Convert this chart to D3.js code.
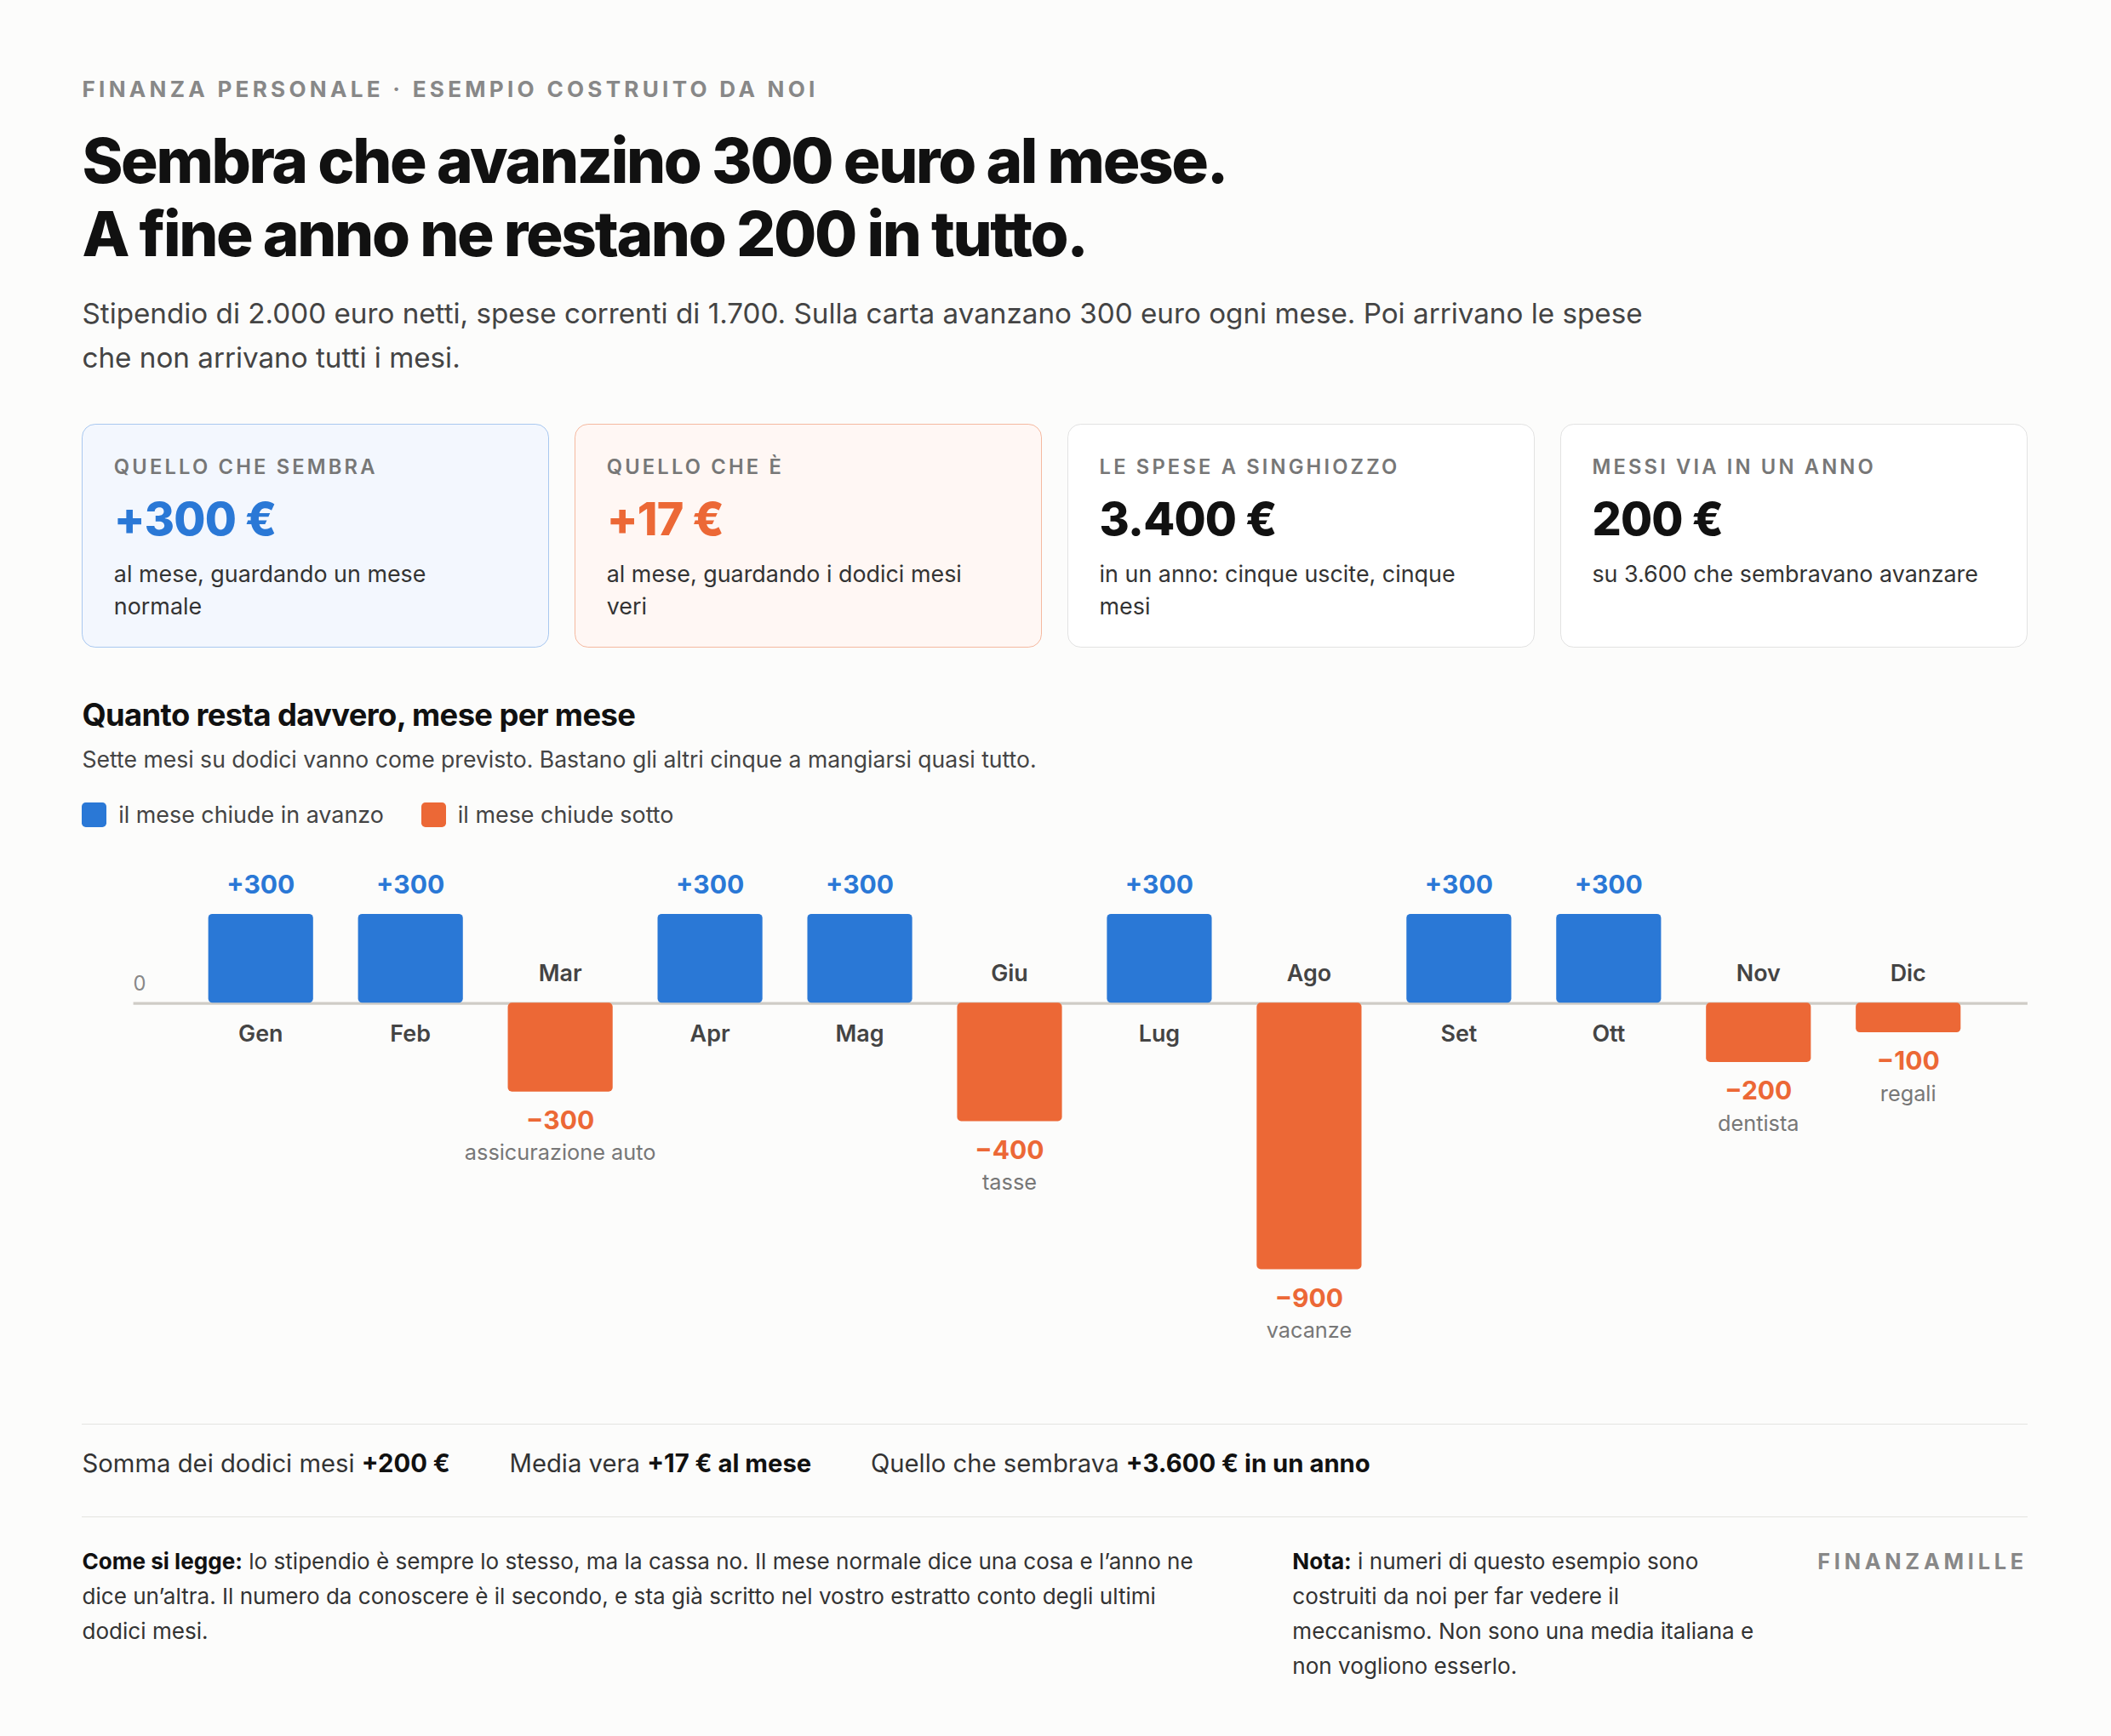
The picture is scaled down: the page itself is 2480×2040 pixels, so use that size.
<!DOCTYPE html>
<html lang="it">
<head>
<meta charset="utf-8">
<script src="https://cdn.jsdelivr.net/npm/d3@7"></script>
<style>
  html, body { margin: 0; background: #fcfcfb; }
  body { zoom: 1.5816; font-family: Inter, "Noto Sans", sans-serif; color: #111; width: 1568px; height: 1290px; overflow: hidden; }
  .page { position: relative; padding: 0 62px 0 61px; }
  .eyebrow { position: absolute; top: 56px; font-size: 16.5px; font-weight: 700; letter-spacing: 2.7px; color: #888; }
  h1 { position: absolute; top: 92px; margin: 0; font-size: 46px; line-height: 55px; letter-spacing: -1.5px; font-weight: 800; }
  .lead { position: absolute; top: 216px; width: 1200px; font-size: 21px; line-height: 33px; color: #444; margin: 0; }
  .cards { position: absolute; top: 315px; display: flex; gap: 19px; }
  .card { width: 347px; height: 166px; box-sizing: border-box; border: 1px solid #e2e2e2; border-radius: 10px; background: #fff; padding: 22px 40px 22px 23px; }
  .card.a { background: #f3f7fe; border-color: #a9c8f0; }
  .card.b { background: #fff7f4; border-color: #f5b9a0; }
  .card .lab { font-size: 15px; font-weight: 600; letter-spacing: 2px; color: #777; }
  .card .val { font-size: 34px; font-weight: 800; margin-top: 9px; letter-spacing: -0.5px; }
  .card .desc { font-size: 17px; line-height: 24px; color: #333; margin-top: 9px; }
  .sec { position: absolute; top: 517px; font-size: 23px; font-weight: 700; letter-spacing: -0.4px; }
  .secsub { position: absolute; top: 554px; font-size: 16.8px; color: #444; }
  .legend { position: absolute; top: 595px; font-size: 17px; color: #444; display: flex; gap: 28px; }
  .legend span i { display: inline-block; width: 18px; height: 18px; border-radius: 3px; vertical-align: -3px; margin-right: 9px; }
  svg { position: absolute; left: 0; top: 0; }
  .rule { position: absolute; left: 61px; width: 1445px; border-top: 1px solid #e4e4e0; }
  .totals { position: absolute; top: 1076px; font-size: 18.5px; color: #333; display: flex; gap: 44px; }
  .totals b { color: #111; }
  .note { position: absolute; top: 1147px; font-size: 16.5px; line-height: 26px; color: #333; }
  .note b { color: #111; }
  .brand { position: absolute; top: 1150px; right: 62px; font-size: 16px; font-weight: 700; letter-spacing: 3px; color: #888; }
</style>
</head>
<body>
<div class="page">
  <div class="eyebrow">FINANZA PERSONALE · ESEMPIO COSTRUITO DA NOI</div>
  <h1>Sembra che avanzino 300 euro al mese.<br>A fine anno ne restano 200 in tutto.</h1>
  <p class="lead">Stipendio di 2.000 euro netti, spese correnti di 1.700. Sulla carta avanzano 300 euro ogni mese. Poi arrivano le spese che non arrivano tutti i mesi.</p>
  <div class="cards" id="cards"></div>
  <div class="sec">Quanto resta davvero, mese per mese</div>
  <div class="secsub">Sette mesi su dodici vanno come previsto. Bastano gli altri cinque a mangiarsi quasi tutto.</div>
  <div class="legend">
    <span><i style="background:#2a78d6"></i>il mese chiude in avanzo</span>
    <span><i style="background:#ec6836"></i>il mese chiude sotto</span>
  </div>
  <div class="rule" style="top:1058px"></div>
  <div class="totals">
    <span>Somma dei dodici mesi <b>+200 €</b></span>
    <span>Media vera <b>+17 € al mese</b></span>
    <span>Quello che sembrava <b>+3.600 € in un anno</b></span>
  </div>
  <div class="rule" style="top:1127px"></div>
  <div class="note" style="left:61px;width:845px"><b>Come si legge:</b> lo stipendio è sempre lo stesso, ma la cassa no. Il mese normale dice una cosa e l’anno ne dice un’altra. Il numero da conoscere è il secondo, e sta già scritto nel vostro estratto conto degli ultimi dodici mesi.</div>
  <div class="note" style="left:960px;width:350px"><b>Nota:</b> i numeri di questo esempio sono costruiti da noi per far vedere il meccanismo. Non sono una media italiana e non vogliono esserlo.</div>
  <div class="brand">FINANZAMILLE</div>
</div>
<script>
const months = ['Gen','Feb','Mar','Apr','Mag','Giu','Lug','Ago','Set','Ott','Nov','Dic'];
const values = [300, 300, -300, 300, 300, -400, 300, -900, 300, 300, -200, -100];
const reasons = ['', '', 'assicurazione auto', '', '', 'tasse', '', 'vacanze', '', '', 'dentista', 'regali'];

const cardLabels = ['QUELLO CHE SEMBRA', 'QUELLO CHE È', 'LE SPESE A SINGHIOZZO', 'MESSI VIA IN UN ANNO'];
const cardValues = ['+300 €', '+17 €', '3.400 €', '200 €'];
const cardDescs = ['al mese, guardando un mese normale', 'al mese, guardando i dodici mesi veri', 'in un anno: cinque uscite, cinque mesi', 'su 3.600 che sembravano avanzare'];
const cardClass = ['a', 'b', '', ''];
const cardColor = ['#2a78d6', '#ec6836', '#111', '#111'];

const blue = '#2a78d6', orange = '#ec6836';

const cards = d3.select('#cards').selectAll('.card')
  .data(cardLabels).enter().append('div')
  .attr('class', (d, i) => 'card ' + cardClass[i]);
cards.append('div').attr('class', 'lab').text(d => d);
cards.append('div').attr('class', 'val').style('color', (d, i) => cardColor[i]).text((d, i) => cardValues[i]);
cards.append('div').attr('class', 'desc').style('white-space', (d, i) => i === 3 ? 'nowrap' : null).text((d, i) => cardDescs[i]);

const svg = d3.select('body').append('svg').attr('width', 1568).attr('height', 1290);

const x = d3.scaleBand().domain(months).range([138, 1473]).paddingInner(0.3).paddingOuter(0.15);
const y = d3.scaleLinear().domain([-900, 300]).range([943, 679]);
const y0 = y(0);

svg.append('line').attr('x1', 99).attr('x2', 1506).attr('y1', y0 + 0.5).attr('y2', y0 + 0.5)
  .attr('stroke', '#cfccc6').attr('stroke-width', 2);
svg.append('text').attr('x', 99).attr('y', y0 - 9).attr('font-size', 15).attr('fill', '#888').text('0');

const g = svg.selectAll('.m').data(months).enter().append('g');
const cx = d => x(d) + x.bandwidth() / 2;

g.append('rect')
  .attr('x', d => x(d))
  .attr('width', x.bandwidth())
  .attr('y', (d, i) => Math.min(y(values[i]), y0))
  .attr('height', (d, i) => Math.abs(y(values[i]) - y0))
  .attr('rx', 3)
  .attr('fill', (d, i) => values[i] > 0 ? blue : orange);

g.append('text')
  .attr('x', cx).attr('text-anchor', 'middle')
  .attr('y', (d, i) => values[i] > 0 ? y0 + 29 : y0 - 16)
  .attr('font-size', 17).attr('font-weight', 600).attr('fill', '#444')
  .text(d => d);

g.append('text')
  .attr('x', cx).attr('text-anchor', 'middle')
  .attr('y', (d, i) => values[i] > 0 ? y(values[i]) - 15 : y(values[i]) + 28)
  .attr('font-size', 19).attr('font-weight', 700)
  .attr('fill', (d, i) => values[i] > 0 ? blue : orange)
  .text((d, i) => (values[i] > 0 ? '+' : '\u2212') + Math.abs(values[i]));

g.append('text')
  .attr('x', cx).attr('text-anchor', 'middle')
  .attr('y', (d, i) => y(values[i]) + 51)
  .attr('font-size', 16).attr('fill', '#777')
  .text((d, i) => values[i] < 0 ? reasons[i] : '');
</script>
</body>
</html>
